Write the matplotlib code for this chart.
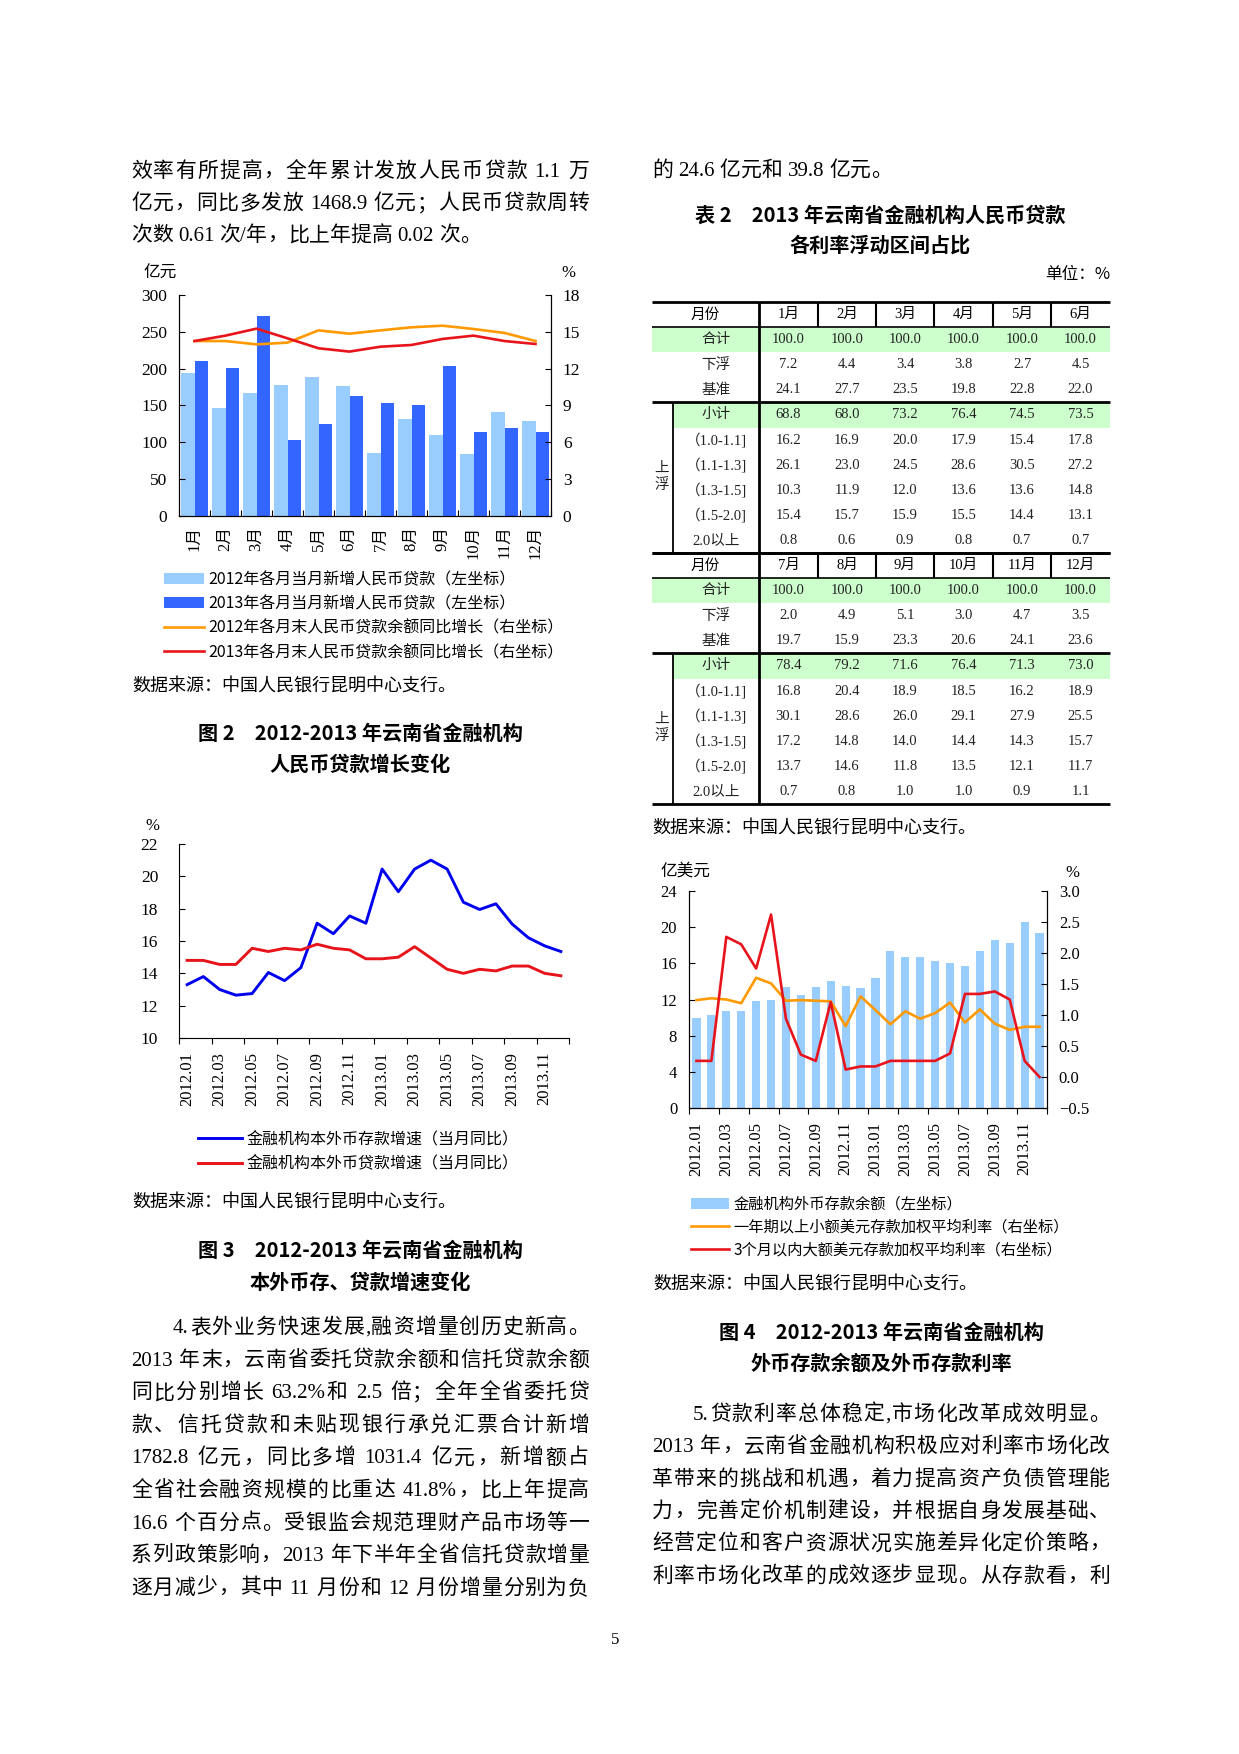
import re
import numpy as np
import matplotlib
matplotlib.use('Agg')
import matplotlib.pyplot as plt
from matplotlib.font_manager import FontProperties

plt.rcParams['font.family'] = ['Noto Sans CJK SC', 'DejaVu Sans']

W, H = 1239, 1754
NUM = ['Liberation Serif', 'Noto Sans CJK SC']

# 图2：人民币贷款增长（亿元 / %）
months = [f'{i}月' for i in range(1, 13)]
new_loan_2012 = [194, 147, 167, 178, 189, 177, 86, 131, 110, 84, 141, 129]
new_loan_2013 = [210, 201, 272, 103, 125, 163, 153, 151, 204, 114, 119, 114]
growth_2012 = [14.25, 14.25, 13.98, 14.12, 15.12, 14.85, 15.12, 15.37, 15.5, 15.23, 14.91, 14.25]
growth_2013 = [14.25, 14.69, 15.26, 14.47, 13.66, 13.39, 13.79, 13.93, 14.42, 14.69, 14.25, 14.01]

# 图3：本外币存、贷款增速（%）
periods = [f'{y}.{m:02d}' for y in (2012, 2013) for m in range(1, 13)]
deposit_growth = [13.3, 13.8, 13.0, 12.65, 12.75, 14.05, 13.55, 14.35, 17.1, 16.45, 17.55, 17.1,
                  20.45, 19.05, 20.45, 21.0, 20.45, 18.4, 17.95, 18.3, 17.05, 16.2, 15.7, 15.35]
loan_growth = [14.8, 14.8, 14.55, 14.55, 15.55, 15.35, 15.55, 15.45, 15.8, 15.55, 15.45, 14.9,
               14.9, 15.0, 15.65, 14.95, 14.25, 14.0, 14.25, 14.15, 14.45, 14.45, 14.0, 13.85]

# 图4：外币存款余额（亿美元）及利率（%）
fx_deposit = [9.9, 10.25, 10.7, 10.7, 11.8, 11.9, 13.35, 12.55, 13.35, 14.1, 13.5, 13.25,
              14.35, 17.35, 16.65, 16.65, 16.3, 16.0, 15.75, 17.35, 18.55, 18.2, 20.6, 19.3]
small_rate = [1.24, 1.27, 1.25, 1.19, 1.60, 1.51, 1.23, 1.24, 1.23, 1.22, 0.82, 1.30,
              1.08, 0.85, 1.06, 0.94, 1.03, 1.20, 0.88, 1.09, 0.86, 0.76, 0.81, 0.81]
large_rate = [0.26, 0.26, 2.26, 2.14, 1.75, 2.62, 0.94, 0.36, 0.26, 1.21, 0.12, 0.17,
              0.17, 0.26, 0.26, 0.26, 0.26, 0.38, 1.34, 1.34, 1.38, 1.25, 0.26, 0.0]

# 表2：各利率浮动区间占比（%）
row_names = ['合计', '下浮', '基准', '小计', '（1.0-1.1]', '（1.1-1.3]', '（1.3-1.5]', '（1.5-2.0]', '2.0以上']
share = [
    [100.0] * 12,
    [7.2, 4.4, 3.4, 3.8, 2.7, 4.5, 2.0, 4.9, 5.1, 3.0, 4.7, 3.5],
    [24.1, 27.7, 23.5, 19.8, 22.8, 22.0, 19.7, 15.9, 23.3, 20.6, 24.1, 23.6],
    [68.8, 68.0, 73.2, 76.4, 74.5, 73.5, 78.4, 79.2, 71.6, 76.4, 71.3, 73.0],
    [16.2, 16.9, 20.0, 17.9, 15.4, 17.8, 16.8, 20.4, 18.9, 18.5, 16.2, 18.9],
    [26.1, 23.0, 24.5, 28.6, 30.5, 27.2, 30.1, 28.6, 26.0, 29.1, 27.9, 25.5],
    [10.3, 11.9, 12.0, 13.6, 13.6, 14.8, 17.2, 14.8, 14.0, 14.4, 14.3, 15.7],
    [15.4, 15.7, 15.9, 15.5, 14.4, 13.1, 13.7, 14.6, 11.8, 13.5, 12.1, 11.7],
    [0.8, 0.6, 0.9, 0.8, 0.7, 0.7, 0.7, 0.8, 1.0, 1.0, 0.9, 1.1],
]

source = '数据来源：中国人民银行昆明中心支行。'

fig = plt.figure(figsize=(W / 100, H / 100), dpi=100)
R = fig.canvas.get_renderer()


def fx(x):
    return x / W


def fy(y):
    return 1 - y / H


def put(x, y, s, size=13, **kw):
    kw.setdefault('va', 'center')
    fig.text(fx(x), fy(y), s, fontsize=size, **kw)


def panel(l, t, r, b):
    return fig.add_axes([fx(l), fy(b), (r - l) / W, (b - t) / H])


CJK = FontProperties(family='Noto Sans CJK SC', size=15)
LAT = FontProperties(family='Liberation Serif', size=15)


def adv(tok, prop):
    a = R.get_text_width_height_descent('|' + tok + '|', prop, ismath=False)[0]
    b = R.get_text_width_height_descent('||', prop, ismath=False)[0]
    return a - b


def body(x0, y, s, x1=None):
    toks = re.findall(r'[0-9A-Za-z.%/\-]+| |[^ ]', s)
    props = [LAT if t.isascii() else CJK for t in toks]
    ws = [adv(t, p) for t, p in zip(toks, props)]
    gap = 0 if x1 is None else (x1 - x0 - sum(ws)) / (len(toks) - 1)
    x = x0
    for t, p, w in zip(toks, props, ws):
        if t != ' ':
            fig.text(fx(x), fy(y), t, fontproperties=p, va='baseline')
        x += w + gap


def caption(x, y, s):
    put(x, y, s, size=14.5, ha='center', weight='bold')


def style_axis(ax, right=False):
    ax.spines['top'].set_visible(False)
    ax.spines['right'].set_visible(right)
    for s in ax.spines.values():
        s.set_linewidth(0.8)


def cat_axis(ax, n, step, labels, tick_dir, pad):
    ax.set_xlim(-0.5, n - 0.5)
    ax.set_xticks(np.arange(-0.5, n, step))
    ax.set_xticklabels([])
    ax.set_xticks(np.arange(0, n, step), labels[::step], minor=True)
    ax.tick_params(axis='x', which='major', direction=tick_dir, length=4, width=0.8)
    ax.tick_params(axis='x', which='minor', length=0, pad=pad, labelsize=12, labelrotation=90)
    plt.setp(ax.get_xticklabels(minor=True), family=NUM)


# ---------------- 正文 ----------------
L0, L1, R0, R1 = 131, 589, 652, 1110
body(L0, 177, '效率有所提高，全年累计发放人民币贷款 1.1 万', L1)
body(L0, 209, '亿元，同比多发放 1468.9 亿元；人民币贷款周转', L1)
body(L0, 241, '次数 0.61 次/年，比上年提高 0.02 次。')
body(R0, 176, '的 24.6 亿元和 39.8 亿元。')

para4 = ['4.表外业务快速发展,融资增量创历史新高。',
         '2013 年末，云南省委托贷款余额和信托贷款余额',
         '同比分别增长 63.2%和 2.5 倍；全年全省委托贷',
         '款、信托贷款和未贴现银行承兑汇票合计新增',
         '1782.8 亿元，同比多增 1031.4 亿元，新增额占',
         '全省社会融资规模的比重达 41.8%，比上年提高',
         '16.6 个百分点。受银监会规范理财产品市场等一',
         '系列政策影响，2013 年下半年全省信托贷款增量',
         '逐月减少，其中 11 月份和 12 月份增量分别为负']
for i, s in enumerate(para4):
    body(173 if i == 0 else L0, 1333 + i * 32.6, s, L1)

para5 = ['5.贷款利率总体稳定,市场化改革成效明显。',
         '2013 年，云南省金融机构积极应对利率市场化改',
         '革带来的挑战和机遇，着力提高资产负债管理能',
         '力，完善定价机制建设，并根据自身发展基础、',
         '经营定位和客户资源状况实施差异化定价策略，',
         '利率市场化改革的成效逐步显现。从存款看，利']
for i, s in enumerate(para5):
    body(693 if i == 0 else R0, 1420 + i * 32.3, s, R1)

put(615, 1640, '5', size=12, ha='center', family=NUM)

# ---------------- 图2 ----------------
ax1 = panel(179, 295, 551, 516)
x = np.arange(12)
bw = 0.43
b12 = ax1.bar(x - bw / 2, new_loan_2012, bw, color='#99CCFF')
b13 = ax1.bar(x + bw / 2, new_loan_2013, bw, color='#3366FF')
ax1.set_ylim(0, 300)
ax1.set_yticks(range(0, 301, 50))
cat_axis(ax1, 12, 1, months, 'in', 7)
ax1.tick_params(axis='y', direction='in', length=4, width=0.8, pad=8.5, labelsize=12.5)
plt.setp(ax1.get_yticklabels(), family=NUM)
style_axis(ax1, right=True)
ax1r = ax1.twinx()
l12, = ax1r.plot(x, growth_2012, color='#FF9900', lw=1.9)
l13, = ax1r.plot(x, growth_2013, color='#E8141B', lw=1.9)
ax1r.set_ylim(0, 18)
ax1r.set_yticks(range(0, 19, 3))
ax1r.tick_params(axis='y', direction='in', length=4, width=0.8, pad=8.5, labelsize=12.5)
plt.setp(ax1r.get_yticklabels(), family=NUM)
style_axis(ax1r, right=True)
put(160, 273, '亿元', size=12, ha='center')
put(568, 273, '%', size=12, ha='center', family=NUM)
ax1r.legend([b12, b13, l12, l13],
            ['2012年各月当月新增人民币贷款（左坐标）', '2013年各月当月新增人民币贷款（左坐标）',
             '2012年各月末人民币贷款余额同比增长（右坐标）', '2013年各月末人民币贷款余额同比增长（右坐标）'],
            loc='upper left', bbox_to_anchor=(fx(164), fy(571)), bbox_transform=fig.transFigure,
            frameon=False, fontsize=11.5, handlelength=2.5, handletextpad=0.3,
            labelspacing=0.46, borderpad=0, borderaxespad=0)
put(132, 687, source)
caption(360, 733, '图 2　2012-2013 年云南省金融机构')
caption(360, 764, '人民币贷款增长变化')

# ---------------- 图3 ----------------
ax3 = panel(179, 844, 569, 1038)
m = np.arange(24)
ax3.plot(m, deposit_growth, color='#0000EE', lw=2.1, label='金融机构本外币存款增速（当月同比）')
ax3.plot(m, loan_growth, color='#E8141B', lw=2.1, label='金融机构本外币贷款增速（当月同比）')
ax3.set_ylim(10, 22)
ax3.set_yticks(range(10, 23, 2))
cat_axis(ax3, 24, 2, periods, 'out', 10)
ax3.tick_params(axis='y', direction='in', length=4, width=0.8, pad=15, labelsize=12.5)
plt.setp(ax3.get_yticklabels(), family=NUM)
style_axis(ax3)
put(152, 826, '%', size=12, ha='center', family=NUM)
ax3.legend(loc='upper left', bbox_to_anchor=(fx(198), fy(1131)), bbox_transform=fig.transFigure,
           frameon=False, fontsize=11.5, handlelength=2.75, handletextpad=0.3,
           labelspacing=0.45, borderpad=0, borderaxespad=0)
put(132, 1203, source)
caption(360, 1250, '图 3　2012-2013 年云南省金融机构')
caption(360, 1282, '本外币存、贷款增速变化')

# ---------------- 表2 ----------------
caption(880, 215, '表 2　2013 年云南省金融机构人民币贷款')
caption(880, 245, '各利率浮动区间占比')
put(1110, 275, '单位：%', size=12, ha='right')

tab = panel(650, 298, 1112, 808)
tab.set_xlim(650, 1112)
tab.set_ylim(808, 298)
tab.axis('off')
edges = [652, 673, 759, 818, 876, 934, 993, 1051, 1110]
top, rh = 302, 25.1
fs = 10.5
for blk in range(2):
    y0 = top + blk * 10 * rh
    tab.fill_between([652, 1110], y0 + rh, y0 + 2 * rh, color='#CCFFCC', lw=0)
    tab.fill_between([673, 1110], y0 + 4 * rh, y0 + 5 * rh, color='#CCFFCC', lw=0)
    tab.text((652 + 759) / 2, y0 + rh / 2, '月份', fontsize=fs, ha='center', va='center')
    for j in range(6):
        k = blk * 6 + j
        cx = (edges[j + 2] + edges[j + 3]) / 2
        tab.text(cx, y0 + rh / 2, months[k], fontsize=fs, ha='center', va='center', family=NUM)
        for i in range(len(row_names)):
            tab.text(cx, y0 + (i + 1.5) * rh, f'{share[i][k]:.1f}', fontsize=fs,
                     ha='center', va='center', family=NUM, color='#222222')
    for i, name in enumerate(row_names):
        tab.text(716, y0 + (i + 1.5) * rh, name, fontsize=fs, ha='center', va='center',
                 family=NUM, color='#222222')
    tab.text(662, y0 + 6.6 * rh, '上', fontsize=fs, ha='center', va='center', color='#222222')
    tab.text(662, y0 + 7.3 * rh, '浮', fontsize=fs, ha='center', va='center', color='#222222')
    tab.hlines([y0, y0 + 4 * rh, y0 + 10 * rh], 652, 1110, color='black', lw=2.0)
    tab.hlines(y0 + rh, 652, 1110, color='black', lw=1.2)
    tab.vlines(759, y0, y0 + 10 * rh, color='black', lw=2.0)
    tab.vlines(673, y0 + 4 * rh, y0 + 10 * rh, color='black', lw=1.3)
    tab.vlines(edges[3:-1], y0, y0 + rh, color='black', lw=1.5)
put(652, 829, source)

# ---------------- 图4 ----------------
ax4 = panel(689, 891, 1047, 1108)
ax4.bar(m, fx_deposit, 0.55, color='#99CCFF', label='金融机构外币存款余额（左坐标）')
ax4.set_ylim(0, 24)
ax4.set_yticks(range(0, 25, 4))
cat_axis(ax4, 24, 2, periods, 'out', 10)
ax4.tick_params(axis='y', direction='in', length=4, width=0.8, pad=8.5, labelsize=12)
plt.setp(ax4.get_yticklabels(), family=NUM)
style_axis(ax4, right=True)
ax4r = ax4.twinx()
ax4r.plot(m, small_rate, color='#FF9900', lw=1.9, label='一年期以上小额美元存款加权平均利率（右坐标）')
ax4r.plot(m, large_rate, color='#E8141B', lw=1.9, label='3个月以内大额美元存款加权平均利率（右坐标）')
ax4r.set_ylim(-0.5, 3.0)
ax4r.set_yticks(np.arange(-0.5, 3.01, 0.5))
ax4r.set_yticklabels([f'{v:.1f}'.replace('-', '\u2212') for v in np.arange(-0.5, 3.01, 0.5)])
ax4r.tick_params(axis='y', direction='in', length=4, width=0.8, pad=8.5, labelsize=12)
plt.setp(ax4r.get_yticklabels(), family=NUM)
style_axis(ax4r, right=True)
put(685, 871, '亿美元', size=12, ha='center')
put(1072, 873, '%', size=12, ha='center', family=NUM)
h1, lab1 = ax4.get_legend_handles_labels()
h2, lab2 = ax4r.get_legend_handles_labels()
ax4r.legend(h1 + h2, lab1 + lab2, loc='upper left', bbox_to_anchor=(fx(691), fy(1196)),
            bbox_transform=fig.transFigure, frameon=False, fontsize=11, handlelength=2.5,
            handletextpad=0.3, labelspacing=0.38, borderpad=0, borderaxespad=0)
put(653, 1285, source)
caption(881, 1332, '图 4　2012-2013 年云南省金融机构')
caption(881, 1363, '外币存款余额及外币存款利率')

fig.savefig('out.png', dpi=100, facecolor='white')
